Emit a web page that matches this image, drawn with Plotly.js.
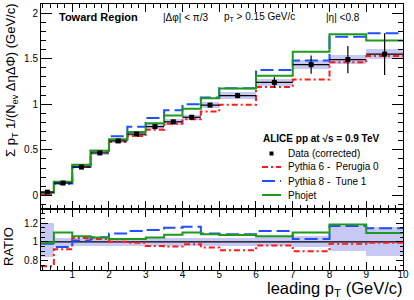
<!DOCTYPE html>
<html>
<head>
<meta charset="utf-8">
<script src="https://cdn.plot.ly/plotly-3.0.1.min.js"></script>
<style>html,body{margin:0;padding:0;background:#fff;}#chart{width:414px;height:300px;}</style>
</head>
<body>
<div id="chart"></div>
<script>
// ---- data ----
const binEdges = [0.15, 0.5, 1, 1.5, 2, 2.5, 3, 3.5, 4, 4.5, 5, 6, 7, 8, 9, 10];
const dataVals = [0.035, 0.135, 0.31, 0.465, 0.597, 0.672, 0.754, 0.807, 0.857, 0.99, 1.095, 1.24, 1.435, 1.49, 1.55];
const dataStat = [0.005, 0.005, 0.005, 0.005, 0.005, 0.006, 0.007, 0.008, 0.009, 0.015, 0.03, 0.06, 0.1, 0.15, 0.23];
const dataSys  = [0.01, 0.01, 0.015, 0.02, 0.02, 0.025, 0.025, 0.03, 0.03, 0.03, 0.035, 0.04, 0.045, 0.05, 0.055];
const pythia6  = [0.015, 0.125, 0.32, 0.48, 0.585, 0.652, 0.72, 0.785, 0.835, 0.92, 0.995, 1.19, 1.27, 1.46, 1.53];
const pythia8  = [0.03, 0.13, 0.315, 0.49, 0.648, 0.752, 0.848, 0.935, 1.0, 1.075, 1.175, 1.375, 1.48, 1.74, 1.78];
const phojet   = [0.03, 0.148, 0.335, 0.49, 0.615, 0.695, 0.79, 0.875, 0.95, 1.066, 1.172, 1.312, 1.575, 1.768, 1.70];
// ratios model / data
const ratioP6  = [0.74, 0.92, 1.04, 1.03, 1.0, 0.99, 0.955, 0.95, 0.975, 0.94, 0.91, 0.96, 0.90, 0.98, 0.99];
const ratioP8  = [0.98, 0.945, 1.015, 1.05, 1.09, 1.116, 1.126, 1.15, 1.16, 1.09, 1.08, 1.116, 1.03, 1.17, 1.145];
const ratioPho = [0.99, 1.10, 1.06, 1.045, 1.03, 1.03, 1.045, 1.075, 1.10, 1.08, 1.074, 1.06, 1.10, 1.186, 1.095];
const ratioBandHi = [1.20, 1.04, 1.04, 1.04, 1.04, 1.04, 1.04, 1.045, 1.045, 1.045, 1.045, 1.055, 1.06, 1.17, 1.155];
const ratioBandLo = [0.835, 0.96, 0.96, 0.96, 0.96, 0.96, 0.96, 0.955, 0.955, 0.955, 0.955, 0.955, 0.94, 0.905, 0.85];

const legendTitle = "ALICE pp at √s = 0.9 TeV";
const legendLabels = ["Data (corrected)", "Pythia 6 -  Perugia 0", "Pythia 8 -  Tune 1", "Phojet"];

// ---- styles ----
const RED = "#ff1a1a", BLUE = "#1f4fff", GREEN = "#1e9a1e", BAND = "rgb(200,200,245)";
const DASH_RED = "6px,3px,2px,3px", DASH_BLUE = "13px,5px";
const FONT = "Liberation Sans, Arial, sans-serif";

const centers = binEdges.slice(0, -1).map((e, i) => (e + binEdges[i + 1]) / 2);
const widths = binEdges.slice(0, -1).map((e, i) => binEdges[i + 1] - e);
const stepY = v => v.concat([v[v.length - 1]]);

function stepTrace(vals, color, dash, xa, ya) {
  return {type: "scatter", mode: "lines", x: binEdges, y: stepY(vals), xaxis: xa, yaxis: ya,
    line: {shape: "hv", color: color, width: 2, dash: dash}, hoverinfo: "skip", showlegend: false};
}

const traces = [
  // top panel band
  {type: "bar", x: centers, width: widths, base: dataVals.map((v, i) => v - dataSys[i]),
   y: dataSys.map(s => 2 * s), xaxis: "x2", yaxis: "y2", marker: {color: BAND, line: {width: 0}},
   showlegend: false, hoverinfo: "skip"},
  stepTrace(pythia6, RED, DASH_RED, "x2", "y2"),
  stepTrace(pythia8, BLUE, DASH_BLUE, "x2", "y2"),
  stepTrace(phojet, GREEN, "solid", "x2", "y2"),
  {type: "scatter", mode: "markers", x: centers, y: dataVals, xaxis: "x2", yaxis: "y2",
   marker: {symbol: "square", size: 5, color: "black"},
   error_y: {type: "data", array: dataStat, color: "black", thickness: 1.2, width: 0},
   error_x: {type: "data", array: widths.map(w => w / 2), color: "black", thickness: 1.2, width: 0},
   showlegend: false, hoverinfo: "skip"},
  // ratio panel
  {type: "bar", x: centers, width: widths, base: ratioBandLo,
   y: ratioBandHi.map((h, i) => h - ratioBandLo[i]), xaxis: "x", yaxis: "y",
   marker: {color: BAND, line: {width: 0}}, showlegend: false, hoverinfo: "skip"},
  {type: "scatter", mode: "lines", x: [binEdges[0], binEdges[binEdges.length - 1]], y: [1, 1],
   xaxis: "x", yaxis: "y", line: {color: "black", width: 1.2}, showlegend: false, hoverinfo: "skip"},
  stepTrace(ratioP6, RED, DASH_RED, "x", "y"),
  stepTrace(ratioP8, BLUE, DASH_BLUE, "x", "y"),
  stepTrace(ratioPho, GREEN, "solid", "x", "y")
];

// pixel -> paper helpers (plot area: x 41..403, y 4..270)
const PX = px => (px - 41) / 362;
const PY = py => (270 - py) / 266;
const split = PY(209);

const tickFont = {family: FONT, size: 10, color: "black"};
const axisCommon = {showline: true, linecolor: "black", linewidth: 1, mirror: "allticks",
  ticks: "inside", tickcolor: "black", showgrid: false, zeroline: false, tickfont: tickFont};

const annotations = [
  {text: "<b>Toward Region</b>", x: PX(57), y: PY(17), xanchor: "left", yanchor: "middle", font: {family: FONT, size: 11}},
  {text: "|Δφ| < π/3", x: PX(161), y: PY(17), xanchor: "left", yanchor: "middle", font: {family: FONT, size: 10}},
  {text: "p<sub>T</sub> > 0.15 GeV/c", x: PX(222), y: PY(17), xanchor: "left", yanchor: "middle", font: {family: FONT, size: 10}},
  {text: "|η| <0.8", x: PX(324), y: PY(17), xanchor: "left", yanchor: "middle", font: {family: FONT, size: 10}},
  {text: "<b>" + legendTitle + "</b>", x: PX(261), y: PY(138), xanchor: "left", yanchor: "middle", font: {family: FONT, size: 10}},
  {text: legendLabels[0], x: PX(286), y: PY(153.5), xanchor: "left", yanchor: "middle", font: {family: FONT, size: 10}},
  {text: legendLabels[1], x: PX(286), y: PY(167), xanchor: "left", yanchor: "middle", font: {family: FONT, size: 10}},
  {text: legendLabels[2], x: PX(286), y: PY(181), xanchor: "left", yanchor: "middle", font: {family: FONT, size: 10}},
  {text: legendLabels[3], x: PX(286), y: PY(195), xanchor: "left", yanchor: "middle", font: {family: FONT, size: 10}},
  {text: "Σ p<sub>T</sub> 1/(N<sub>ev</sub> ΔηΔΦ) (GeV/c)", x: PX(11), y: PY(80), textangle: -90,
   xanchor: "center", yanchor: "middle", font: {family: FONT, size: 13}},
  {text: "RATIO", x: PX(8), y: PY(247), textangle: -90, xanchor: "center", yanchor: "middle", font: {family: FONT, size: 13}},
  {text: "leading p<sub>T</sub> (GeV/c)", x: PX(404), y: PY(289), xanchor: "right", yanchor: "middle", font: {family: FONT, size: 16.5}}
].map(a => Object.assign({xref: "paper", yref: "paper", showarrow: false}, a));

const shapes = [
  {type: "line", x0: PX(262), x1: PX(281), y0: PY(167), y1: PY(167), line: {color: RED, width: 2, dash: DASH_RED}},
  {type: "line", x0: PX(262), x1: PX(281), y0: PY(181), y1: PY(181), line: {color: BLUE, width: 2, dash: DASH_BLUE}},
  {type: "line", x0: PX(262), x1: PX(281), y0: PY(195), y1: PY(195), line: {color: GREEN, width: 2}},
  {type: "rect", x0: PX(269.5), x1: PX(273.5), y0: PY(151.5), y1: PY(155.5), fillcolor: "black", line: {width: 0}}
].map(s => Object.assign({xref: "paper", yref: "paper"}, s));

const layout = {
  width: 414, height: 300,
  margin: {l: 41, r: 11, t: 4, b: 30},
  paper_bgcolor: "white", plot_bgcolor: "white",
  showlegend: false, barmode: "overlay", bargap: 0,
  font: {family: FONT, color: "black"},
  xaxis: Object.assign({}, axisCommon, {domain: [0, 1], anchor: "y", range: [0.15, 10], dtick: 1, tick0: 0,
    ticklen: 8, ticklabelstandoff: -5,
    minor: {ticks: "inside", ticklen: 4, dtick: 0.2, tick0: 0, tickcolor: "black", showgrid: false}}),
  yaxis: Object.assign({}, axisCommon, {domain: [0, split], anchor: "x", range: [0.7, 1.35], dtick: 0.2, tick0: 0,
    ticklen: 7, minor: {ticks: "inside", ticklen: 3.5, dtick: 0.05, tick0: 0, tickcolor: "black", showgrid: false}}),
  xaxis2: Object.assign({}, axisCommon, {domain: [0, 1], anchor: "y2", matches: "x", range: [0.15, 10], dtick: 1, tick0: 0,
    ticklen: 8, showticklabels: false,
    minor: {ticks: "inside", ticklen: 4, dtick: 0.2, tick0: 0, tickcolor: "black", showgrid: false}}),
  yaxis2: Object.assign({}, axisCommon, {domain: [split, 1], anchor: "x2", range: [-0.15, 2.1], dtick: 0.5, tick0: 0,
    ticklen: 11, minor: {ticks: "inside", ticklen: 5, dtick: 0.1, tick0: 0, tickcolor: "black", showgrid: false}}),
  annotations: annotations,
  shapes: shapes
};

Plotly.newPlot("chart", traces, layout, {staticPlot: true, displayModeBar: false});
</script>
</body>
</html>
